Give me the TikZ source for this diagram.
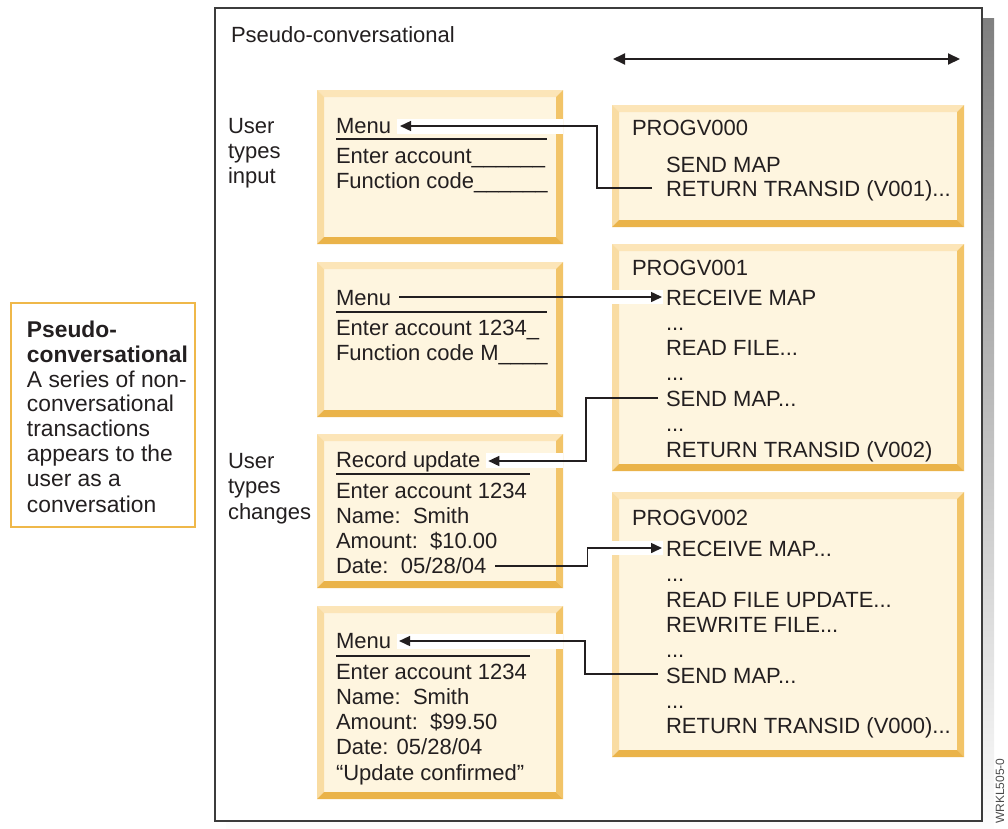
\documentclass[tikz,border=0pt]{standalone}
\usepackage{fontspec}
\setmainfont{Liberation Sans}
\usetikzlibrary{arrows.meta,calc}

\definecolor{ink}{HTML}{231F20}
\definecolor{boxfill}{HTML}{FEF5DF}
\definecolor{bevT}{HTML}{FCE5B8}
\definecolor{bevL}{HTML}{F9DCA2}
\definecolor{bevR}{HTML}{F2C468}
\definecolor{bevB}{HTML}{EAB349}
\definecolor{shade}{HTML}{E8E9EA}
\definecolor{framec}{HTML}{3C3C3C}
\definecolor{notec}{HTML}{EFB84A}

\newcommand\body{\fontsize{22}{25}\selectfont}
\newcommand\notebody{\fontsize{22.8}{25}\selectfont}
\newcommand\bw{7}

% bevelled yellow panel: name, x1, y1, x2, y2 (y grows downwards)
\newcommand\bevelbox[5]{%
  \node[panel, minimum width={(#4-#2)*1pt}, minimum height={(#5-#3)*1pt}] (#1) at ({(#2+#4)/2},{(#3+#5)/2}) {};
  \fill[bevT] (#1.north west) -- (#1.north east) -- ($(#1.north east)+(-\bw,\bw)$) -- ($(#1.north west)+(\bw,\bw)$) -- cycle;
  \fill[bevL] (#1.north west) -- ($(#1.north west)+(\bw,\bw)$) -- ($(#1.south west)+(\bw,-\bw)$) -- (#1.south west) -- cycle;
  \fill[bevR] (#1.north east) -- ($(#1.north east)+(-\bw,\bw)$) -- ($(#1.south east)+(-\bw,-\bw)$) -- (#1.south east) -- cycle;
  \fill[bevB] (#1.south west) -- ($(#1.south west)+(\bw,-\bw)$) -- ($(#1.south east)+(-\bw,-\bw)$) -- (#1.south east) -- cycle;
}
% one line of text: name, x, baseline y, text
\newcommand\tline[4]{\node[txt] (#1) at (#2,#3) {#4};}
\newcommand\nline[4]{\node[txt, font=\notebody] (#1) at (#2,#3) {#4};}

\begin{document}
\begin{tikzpicture}[x=1pt, y=-1pt,
  panel/.style={rectangle, fill=boxfill, draw=none, inner sep=0pt, outer sep=0pt},
  txt/.style={anchor=base west, inner sep=0pt, outer sep=0pt, text=ink, font=\body},
  conn/.style={draw=ink, line width=1.5pt},
  tipL/.style={-{Triangle[length=11pt,width=10pt]}},
  band/.style={fill=white},
  rulel/.style={draw=ink, line width=2pt}]

\useasboundingbox (0,0) rectangle (1008,828);

% frame with its shadow
\fill[shade] (226,18) rectangle (994,840);
\node[rectangle, draw=framec, line width=1.5pt, fill=white, inner sep=0pt,
      minimum width=767pt, minimum height=813pt] (frame) at (598.5,414.5) {};
\tline{title}{231}{42}{Pseudo-conversational}

% time span arrow
\coordinate (spanL) at (613,59);
\coordinate (spanR) at (960,59);
\draw[draw=ink, line width=2pt, {Triangle[length=12pt,width=11pt]}-{Triangle[length=12pt,width=11pt]}] (spanL) -- (spanR);

% side note
\node[rectangle, draw=notec, line width=1.5pt, fill=white, inner sep=0pt,
      minimum width=184pt, minimum height=224pt] (note) at (103,415) {};
\node[txt, font=\notebody\bfseries] (n1) at (27,337) {Pseudo-};
\node[txt, font=\notebody\bfseries] (n2) at (27,362) {conversational};
\nline{n3}{27}{387}{A series of non-}
\nline{n4}{27}{411}{conversational}
\nline{n5}{27}{436}{transactions}
\nline{n6}{27}{461}{appears to the}
\nline{n7}{27}{486}{user as a}
\nline{n8}{27}{512}{conversation}

% user action labels
\tline{ua1}{228}{133}{User}
\tline{ua2}{228}{158}{types}
\tline{ua3}{228}{183}{input}
\tline{ub1}{228}{468}{User}
\tline{ub2}{228}{493}{types}
\tline{ub3}{228}{519}{changes}

% terminal screens
\bevelbox{L1}{317}{90}{563}{244}
\bevelbox{L2}{317}{262}{563}{417}
\bevelbox{L3}{317}{434}{563}{588}
\bevelbox{L4}{317}{606}{563}{799}

% programs
\bevelbox{R1}{612}{105}{964}{227}
\bevelbox{R2}{612}{244}{964}{471}
\bevelbox{R3}{612}{492}{964}{757}

% screen 1
\tline{l1m}{336}{133}{Menu}
\tline{l1e}{336}{163}{Enter account\_\_\_\_\_\_}
\tline{l1f}{336}{188}{Function code\_\_\_\_\_\_}
\draw[rulel] (336,139) -- (547,139);

% screen 2
\tline{l2m}{336}{305}{Menu}
\tline{l2e}{336}{335}{Enter account 1234\_}
\tline{l2f}{336}{360}{Function code M\_\_\_\_}
\draw[rulel] (336,312) -- (547,312);

% screen 3
\tline{l3r}{336}{467}{Record update}
\tline{l3e}{336}{498}{Enter account 1234}
\tline{l3n}{336}{523}{Name:\ \ Smith}
\tline{l3a}{336}{548}{Amount:\ \ \$10.00}
\tline{l3d}{336}{573}{Date:\ \ 05/28/04}
\draw[rulel] (336,474) -- (530,474);

% screen 4
\tline{l4m}{336}{648}{Menu}
\tline{l4e}{336}{679}{Enter account 1234}
\tline{l4n}{336}{704}{Name:\ \ Smith}
\tline{l4a}{336}{729}{Amount:\ \ \$99.50}
\tline{l4d}{336}{754}{Date: 05/28/04}
\tline{l4u}{336}{780}{“Update confirmed”}
\draw[rulel] (336,656) -- (530,656);

% PROGV000
\tline{r1p}{632}{135}{PROGV000}
\tline{r1s}{666}{172}{SEND MAP}
\tline{r1r}{666}{196}{RETURN TRANSID (V001)...}

% PROGV001
\tline{r2p}{632}{275}{PROGV001}
\tline{r2a}{666}{305}{RECEIVE MAP}
\tline{r2b}{666}{330}{...}
\tline{r2c}{666}{355}{READ FILE...}
\tline{r2d}{666}{380}{...}
\tline{r2e}{666}{406}{SEND MAP...}
\tline{r2f}{666}{431}{...}
\tline{r2g}{666}{457}{RETURN TRANSID (V002)}

% PROGV002
\tline{r3p}{632}{525}{PROGV002}
\tline{r3a}{666}{556}{RECEIVE MAP...}
\tline{r3b}{666}{581}{...}
\tline{r3c}{666}{607}{READ FILE UPDATE...}
\tline{r3d}{666}{632}{REWRITE FILE...}
\tline{r3e}{666}{657}{...}
\tline{r3f}{666}{683}{SEND MAP...}
\tline{r3g}{666}{708}{...}
\tline{r3h}{666}{733}{RETURN TRANSID (V000)...}

% white strips behind incoming arrows
\fill[band] ($(l1m.base east)+(6,-14)$) rectangle ($(L1.east |- l1m.base)+(0,1)$);
\fill[band] ($(R2.west |- r2a.base)+(0,-15)$) rectangle ($(r2a.base west)+(-3,-1)$);
\fill[band] ($(l3r.base east)+(6,-14)$) rectangle ($(L3.east |- l3r.base)+(0,1)$);
\fill[band] ($(R3.west |- r3a.base)+(0,-15)$) rectangle ($(r3a.base west)+(-3,-1)$);
\fill[band] ($(l4m.base east)+(6,-14)$) rectangle ($(L4.east |- l4m.base)+(0,1)$);

% connectors
\draw[conn, tipL] ($(r1r.base west)+(-14,-8)$) -- ++(-55,0) |- ($(l1m.base east)+(9,-7)$);
\draw[conn, tipL] ($(l2m.base east)+(8,-8)$) -- ($(r2a.base west)+(-4,-8)$);
\draw[conn, tipL] ($(r2e.base west)+(-8,-8)$) -- ++(-72,0) |- ($(l3r.base east)+(8,-6)$);
\draw[conn, tipL] ($(l3d.base east)+(9,-7)$) -- ++(92,0) |- ($(r3a.base west)+(-4,-8)$);
\draw[conn, tipL] ($(r3f.base west)+(-8,-9)$) -- ++(-73,0) |- ($(l4m.base east)+(8,-7)$);

% figure reference
\node[rotate=90, anchor=west, inner sep=0pt, text=black!70, font=\fontsize{12}{12}\selectfont] (figid) at (1000,824) {WRKL505-0};
\end{tikzpicture}
\end{document}
